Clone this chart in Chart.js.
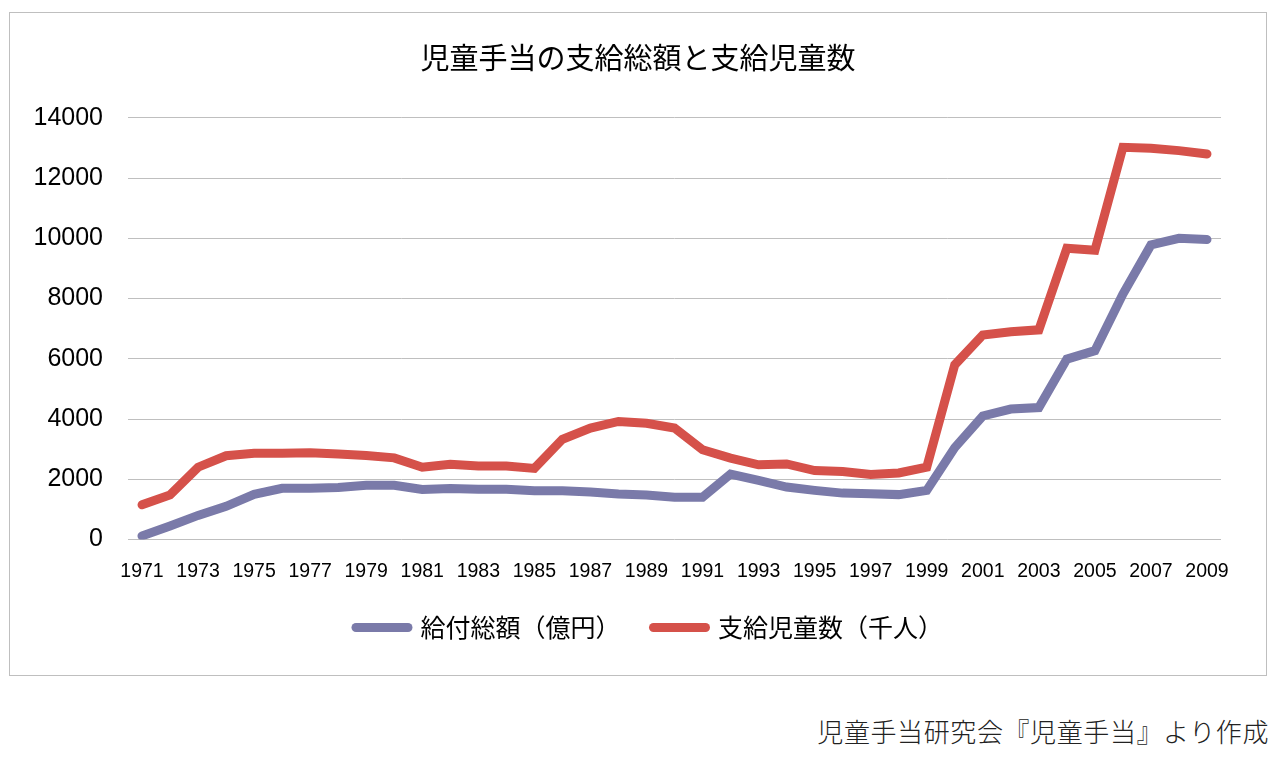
<!DOCTYPE html>
<html>
<head>
<meta charset="utf-8">
<script src="https://cdn.jsdelivr.net/npm/chart.js@4.4.1/dist/chart.umd.min.js"></script>
<style>
  html, body { margin: 0; padding: 0; background: #fff; }
  body { width: 1280px; height: 758px; position: relative; overflow: hidden; }
  .frame { position: absolute; left: 9px; top: 12px; width: 1258px; height: 664px; box-sizing: border-box; border: 1px solid #bfbfbf; }
  .chartBox { position: absolute; left: 10px; top: 13px; width: 1256px; height: 662px; }
  .source { position: absolute; right: 11px; top: 713px; font-family: "Noto Sans CJK JP", sans-serif; font-weight: 300; font-size: 26px; letter-spacing: 0.6px; color: #222; white-space: nowrap; line-height: 36px; }
</style>
</head>
<body>
<div class="frame"></div>
<div class="chartBox"><canvas id="line-chart"></canvas></div>
<div class="source">児童手当研究会『児童手当』より作成</div>
<script>
const years = [
  '1971','1972','1973','1974','1975','1976','1977','1978','1979','1980',
  '1981','1982','1983','1984','1985','1986','1987','1988','1989','1990',
  '1991','1992','1993','1994','1995','1996','1997','1998','1999','2000',
  '2001','2002','2003','2004','2005','2006','2007','2008','2009'
];

// 給付総額（億円）
const totalAmount = [
  120, 450, 800, 1100, 1500, 1700, 1700, 1730, 1800, 1800,
  1660, 1690, 1670, 1670, 1620, 1620, 1580, 1510, 1480, 1400,
  1400, 2170, 1960, 1740, 1630, 1540, 1520, 1490, 1630, 3050,
  4100, 4330, 4380, 5990, 6270, 8150, 9780, 10000, 9960
];

// 支給児童数（千人）
const childCount = [
  1150, 1480, 2400, 2780, 2860, 2860, 2880, 2840, 2790, 2710,
  2400, 2500, 2440, 2440, 2360, 3330, 3700, 3920, 3860, 3700,
  2980, 2700, 2480, 2510, 2290, 2260, 2160, 2210, 2400, 5800,
  6790, 6900, 6960, 9670, 9600, 13020, 12990, 12910, 12800
];

const seriesNames = ['給付総額（億円）', '支給児童数（千人）'];
const yTicks = { min: 0, max: 14000, step: 2000 };

const blue = '#7a7aa9';
const red = '#d5514a';

// title and legend are centred on the whole frame, not on the padded area
const centreShift = {
  id: 'centreShift',
  afterLayout(chart) {
    chart.titleBlock.left += 22.5;
    chart.titleBlock.right += 22.5;
    chart.legend.left += 34;
    chart.legend.right += 34;
  },
};

const ctx = document.getElementById('line-chart').getContext('2d');

new Chart(ctx, {
  type: 'line',
  data: {
    labels: years,
    datasets: [
      {
        label: seriesNames[0],
        data: totalAmount,
        borderColor: blue,
        backgroundColor: blue,
      },
      {
        label: seriesNames[1],
        data: childCount,
        borderColor: red,
        backgroundColor: red,
      },
    ],
  },
  options: {
    responsive: true,
    maintainAspectRatio: false,
    animation: false,
    layout: {
      padding: { left: 0, right: 45, top: 0, bottom: 25 },
    },
    elements: {
      line: {
        borderWidth: 9,
        tension: 0,
        borderCapStyle: 'round',
        borderJoinStyle: 'miter',
      },
      point: {
        radius: 0,
        hoverRadius: 0,
        pointStyle: 'line',
      },
    },
    scales: {
      x: {
        offset: true,
        afterFit: (scale) => { scale.height = 42.5; },
        grid: { display: false, drawTicks: false },
        border: { display: false },
        ticks: {
          autoSkip: false,
          maxRotation: 0,
          padding: 20,
          color: '#000',
          font: { family: '"Liberation Sans", Arial, sans-serif', size: 19.5 },
          callback: function (value, index) {
            return index % 2 === 0 ? this.getLabelForValue(value) : '';
          },
        },
      },
      y: {
        min: yTicks.min,
        max: yTicks.max,
        afterFit: (scale) => { scale.width = 118; },
        grid: { color: '#bfbfbf', lineWidth: 1, drawTicks: false },
        border: { display: false },
        ticks: {
          stepSize: yTicks.step,
          padding: 25,
          color: '#000',
          font: { family: '"Liberation Sans", Arial, sans-serif', size: 25 },
          callback: (value) => String(value),
        },
      },
    },
    plugins: {
      title: {
        display: true,
        text: '児童手当の支給総額と支給児童数',
        color: '#000',
        font: { family: '"Noto Sans CJK JP", sans-serif', size: 29, weight: 'normal' },
        padding: { top: 28, bottom: 42 },
      },
      legend: {
        position: 'bottom',
        labels: {
          usePointStyle: true,
          pointStyleWidth: 52,
          padding: 33,
          color: '#000',
          font: { family: '"Noto Sans CJK JP", sans-serif', size: 25 },
          generateLabels: (chart) => {
            const items = Chart.defaults.plugins.legend.labels.generateLabels(chart);
            return items.map((item) => {
              const ds = chart.data.datasets[item.datasetIndex];
              return { ...item, pointStyle: 'line', lineWidth: 9, lineCap: 'round', strokeStyle: ds.borderColor };
            });
          },
        },
      },
      tooltip: { enabled: false },
    },
  },
  plugins: [centreShift],
});
</script>
</body>
</html>
